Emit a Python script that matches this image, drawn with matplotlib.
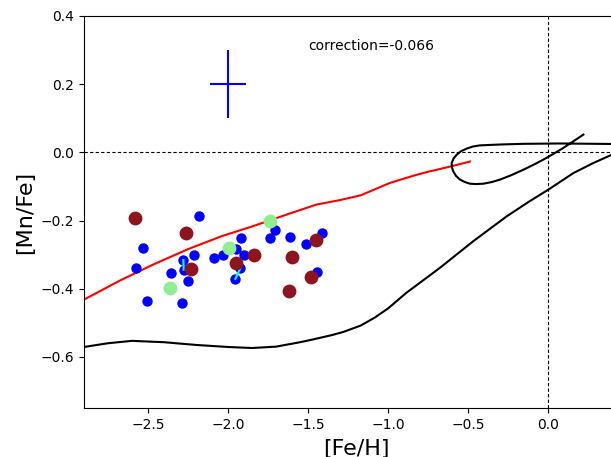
import numpy as np
import matplotlib
matplotlib.use('Agg')
import matplotlib.pyplot as plt

# Puntos de estrellas (azules)
fe_blue = [-2.183, -2.529, -2.575, -2.354, -2.508, -2.286, -2.25, -2.279, -2.277,
           -2.214, -2.089, -2.033, -1.919, -1.952, -1.90, -1.923, -1.954, -1.706,
           -1.736, -1.611, -1.5125, -1.411, -1.446]
mn_blue = [-0.187, -0.280, -0.339, -0.354, -0.436, -0.441, -0.378, -0.316, -0.344,
           -0.300, -0.309, -0.300, -0.252, -0.285, -0.300, -0.340, -0.371, -0.227,
           -0.251, -0.248, -0.269, -0.236, -0.351]

# pares unidos (misma estrella)
pair_fe = [[-2.279, -2.277], [-1.923, -1.954]]
pair_mn = [[-0.316, -0.344], [-0.340, -0.371]]

# rojo oscuro
fe_red = [-2.581, -2.264, -2.231, -1.952, -1.838, -1.602, -1.452, -1.481, -1.619]
mn_red = [-0.192, -0.236, -0.342, -0.326, -0.300, -0.306, -0.256, -0.365, -0.406]

# verde claro
fe_green = [-2.364, -1.994, -1.738]
mn_green = [-0.397, -0.281, -0.201]

# modelo (rojo)
fe_model = [-2.9, -2.675, -2.467, -2.25, -2.04, -1.84, -1.63, -1.446, -1.30,
            -1.17, -1.08, -0.989, -0.9, -0.822, -0.75, -0.676, -0.58, -0.488]
mn_model = [-0.432, -0.376, -0.329, -0.284, -0.246, -0.216, -0.182, -0.153, -0.140,
            -0.126, -0.108, -0.090, -0.077, -0.066, -0.057, -0.049, -0.038, -0.027]

# curva negra con lazo
fe_loop = [0.394, 0.075, -0.154, -0.30, -0.425, -0.47, -0.508, -0.545, -0.571,
           -0.590, -0.602, -0.600, -0.592, -0.575, -0.55, -0.52, -0.4875, -0.45,
           -0.404, -0.35, -0.30, -0.23, -0.154, -0.08, -0.008, 0.096, 0.221]
mn_loop = [0.0246, 0.026, 0.025, 0.023, 0.0205, 0.017, 0.011, 0.003, -0.007,
           -0.018, -0.031, -0.044, -0.056, -0.069, -0.080, -0.087, -0.092, -0.093,
           -0.092, -0.087, -0.080, -0.067, -0.051, -0.034, -0.016, 0.013, 0.052]

# curva negra inferior
fe_low = [-2.9, -2.75, -2.6, -2.4, -2.2, -2.0, -1.85, -1.7, -1.55, -1.47, -1.35,
          -1.28, -1.17, -1.08, -1.0, -0.885, -0.676, -0.468, -0.259, -0.12, 0.0,
          0.158, 0.28, 0.394]
mn_low = [-0.571, -0.560, -0.553, -0.557, -0.565, -0.571, -0.574, -0.570, -0.557,
          -0.549, -0.536, -0.527, -0.508, -0.484, -0.458, -0.412, -0.339, -0.261,
          -0.188, -0.145, -0.110, -0.061, -0.032, -0.008]

fig = plt.figure(figsize=(6.11, 4.57), dpi=100)
ax = fig.add_axes([84 / 611, 49 / 457, 544 / 611, 392 / 457])

ax.axhline(0, color='k', lw=0.8, ls=(0, (3, 2)))
ax.axvline(0, color='k', lw=0.8, ls=(0, (3, 2)))

ax.plot(fe_model, mn_model, color='red', lw=1.5)
ax.plot(fe_loop, mn_loop, color='black', lw=1.5)
ax.plot(fe_low, mn_low, color='black', lw=1.5)

ax.scatter(fe_blue, mn_blue, s=42, color='blue', zorder=3)
for fx, my in zip(pair_fe, pair_mn):
    ax.plot(fx, my, color='cyan', lw=1.5, zorder=4)
ax.scatter(fe_red, mn_red, s=80, color='#8e141e', zorder=5)
ax.scatter(fe_green, mn_green, s=80, color='lightgreen', zorder=5)

ax.errorbar([-2.0], [0.2], xerr=0.115, yerr=0.1, color='blue', lw=1.5, capsize=0)
ax.text(-1.5, 0.3, 'correction=-0.066', fontsize=10)

ax.set_xlim(-2.9, 0.5)
ax.set_ylim(-0.75, 0.4)
ax.set_xticks([-2.5, -2.0, -1.5, -1.0, -0.5, 0.0])
ax.set_yticks([-0.6, -0.4, -0.2, 0.0, 0.2, 0.4])
ax.set_xlabel('[Fe/H]', fontsize=16, labelpad=5)
ax.set_ylabel('[Mn/Fe]', fontsize=16)

fig.savefig('out.png', dpi=100)
